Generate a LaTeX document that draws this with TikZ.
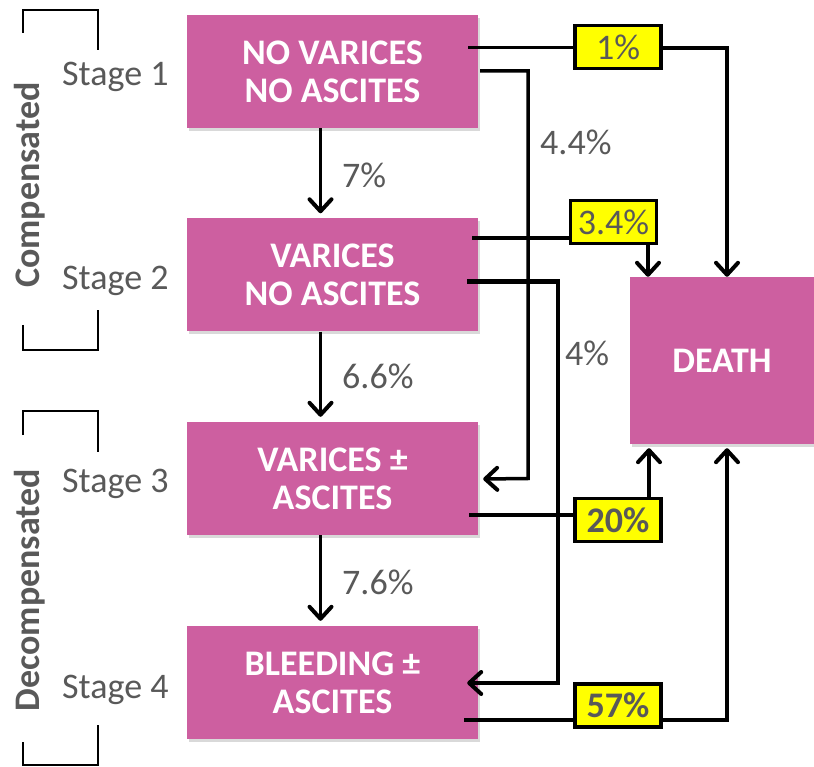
\documentclass[tikz,border=0pt]{standalone}
\usepackage{fontspec}
\setmainfont{Carlito}
\usetikzlibrary{arrows.meta,calc,shadows}
\definecolor{pinkbox}{RGB}{205,95,160}
\definecolor{txtgray}{RGB}{89,89,89}
\definecolor{ybox}{RGB}{255,255,0}
\begin{document}
\begin{tikzpicture}[x=1pt,y=-1pt,
  stagebox/.style={fill=pinkbox,text=white,font=\fontsize{36}{38}\selectfont\bfseries,
     minimum width=291pt,minimum height=113pt,inner sep=0pt,align=center,
     drop shadow={opacity=0.3,shadow xshift=2pt,shadow yshift=-3pt}},
  yellow box/.style={fill=ybox,draw=black,line width=3.5pt,text=txtgray,
     minimum width=86pt,minimum height=43pt,inner sep=0pt,font=\fontsize{36}{38}\selectfont},
  lbl/.style={text=txtgray,font=\fontsize{36}{38}\selectfont,anchor=base west,inner sep=0pt},
  conn/.style={draw=black,line width=3.5pt},
  arr/.style={conn,-{Straight Barb[length=12pt,width=22pt,line width=4pt,round]}},
  brk/.style={draw=black,line width=2.5pt}
]
\useasboundingbox (0,0) rectangle (814,767);
% brackets
\draw[brk] (23,33) -- (23,10) -- (98,10) -- (98,50);
\draw[brk] (23,325) -- (23,350) -- (98,350) -- (98,310);
\draw[brk] (23,435) -- (23,411) -- (98,411) -- (98,452);
\draw[brk] (23,742) -- (23,765) -- (98,765) -- (98,725);
\node[rotate=90,text=txtgray,font=\fontsize{36}{38}\selectfont\bfseries] (comp) at (30,185) {Compensated};
\node[rotate=90,text=txtgray,font=\fontsize{36}{38}\selectfont\bfseries] (decomp) at (30,590) {Decompensated};
% stage labels
\node[lbl] (s1) at (62,86) {Stage 1};
\node[lbl] (s2) at (62,290) {Stage 2};
\node[lbl] (s3) at (62,492) {Stage 3};
\node[lbl] (s4) at (62,698) {Stage 4};
% boxes
\node[stagebox] (b1) at (332.5,71.5) {NO VARICES\\NO ASCITES};
\node[stagebox] (b2) at (332.5,275) {VARICES\\NO ASCITES};
\node[stagebox] (b3) at (332.5,478.5) {VARICES ±\\ASCITES};
\node[stagebox] (b4) at (332.5,682.5) {BLEEDING ±\\ASCITES};
\node[stagebox,minimum width=184pt,minimum height=167pt] (death) at (722,360.5) {DEATH};
% yellow boxes
\node[yellow box] (y1) at (618,47) {1\%};
\node[yellow box] (y34) at (613.5,222) {3.4\%};
\node[yellow box,font=\fontsize{36}{38}\selectfont\bfseries] (y20) at (618,520) {20\%};
\node[yellow box,font=\fontsize{36}{38}\selectfont\bfseries] (y57) at (618,705.5) {57\%};
% vertical stage arrows
\draw[arr] ([xshift=-12pt]b1.south) -- ($([xshift=-12pt]b2.north)+(0,-5)$);
\draw[arr] ([xshift=-12pt]b2.south) -- ($([xshift=-12pt]b3.north)+(0,-5)$);
\draw[arr] ([xshift=-12pt]b3.south) -- ($([xshift=-12pt]b4.north)+(0,-5)$);
\node[lbl] (p7) at (342,188) {7\%};
\node[lbl] (p66) at (342,388) {6.6\%};
\node[lbl] (p76) at (342,594) {7.6\%};
% coordinates for vertical runs
\coordinate (c44) at (528,0);
\coordinate (c4) at (558,0);
\coordinate (dl) at (648,0);
\coordinate (dr) at (727,0);
% 1%
\draw[conn] ($(b1.east)+(-10,-24)$) -- (y1.west |- {$(b1.east)+(0,-24)$});
\draw[arr] ($(y1.east)+(0,1)$) -| (death.north -| dr);
% 4.4%
\draw[arr] ($(b1.east)+(2,-0.5)$) -| (b3.east -| c44) -- ($(b3.east)+(5,0.5)$);
\node[lbl] (p44) at (540,155) {4.4\%};
% 3.4%
\draw[conn] ($(b2.east)+(-6,-37)$) -- ($(y34.west)+(0,16)$);
\draw[arr] (y34.south -| dl) -- (death.north -| dl);
% 4%
\draw[arr] ($(b2.east)+(-11,7)$) -- ($(b2.east -| c4)+(0,7)$) |- ($(b4.east)+(-11,0.5)$);
\draw[line width=5pt] ($(b2.east)+(-11,7)$) -- ($(b2.east -| c4)+(1.75,7)$);
\node[lbl] (p4) at (565,365) {4\%};
% 20%
\draw[conn] ($(b3.east)+(-9,36.5)$) -- ($(y20.west)+(0,-5)$);
\draw[arr] ([xshift=31pt]y20.north) -- ($([xshift=31pt]y20.north |- death.south)+(0,4)$);
% 57%
\draw[conn] ($(b4.east)+(-14,37.5)$) -- ($(y57.west)+(0,14.5)$);
\draw[arr] ($(y57.east)+(0,14.5)$) -| ($(death.south -| dr)+(0,4)$);
\end{tikzpicture}
\end{document}
